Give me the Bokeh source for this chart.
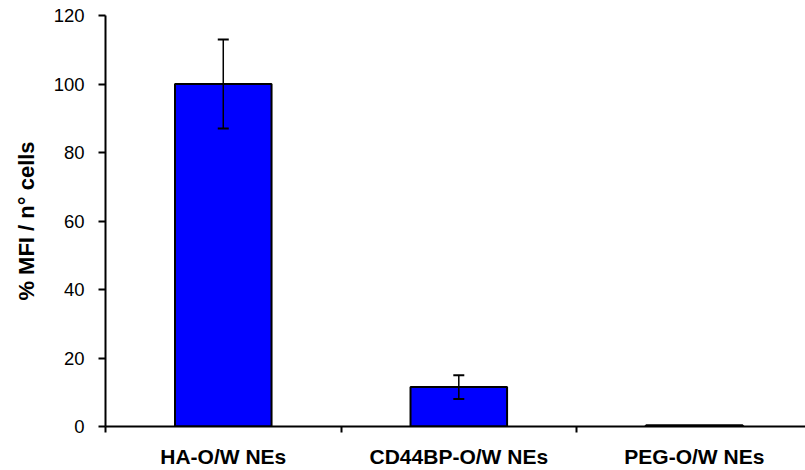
from bokeh.plotting import figure
from bokeh.models import ColumnDataSource, Range1d, FixedTicker, Whisker, TeeHead
from bokeh.embed import file_html
from bokeh.resources import INLINE

categories = ["HA-O/W NEs", "CD44BP-O/W NEs", "PEG-O/W NEs"]
values = [100.0, 11.5, 0.4]
errors = [13.0, 3.5, 0.0]
y_ticks = [0, 20, 40, 60, 80, 100, 120]

x_pos = [i + 0.5 for i in range(len(categories))]
src = ColumnDataSource(dict(x=x_pos, top=values))

ex = [x for x, e in zip(x_pos, errors) if e > 0]
eu = [v + e for v, e in zip(values, errors) if e > 0]
el = [v - e for v, e in zip(values, errors) if e > 0]
esrc = ColumnDataSource(dict(x=ex, upper=eu, lower=el))

p = figure(width=805, height=470, output_backend="svg", toolbar_location=None,
           x_range=Range1d(0, 2.972), y_range=Range1d(0, 120),
           min_border_left=105, min_border_right=0, min_border_top=15, min_border_bottom=44)
p.outline_line_color = None
p.xgrid.visible = False
p.ygrid.visible = False
p.background_fill_color = "white"

p.vbar(x="x", top="top", bottom=0, width=0.41, source=src,
       fill_color="#0000FF", line_color="black", line_width=2)

w = Whisker(base="x", upper="upper", lower="lower", source=esrc,
            line_color="black", line_width=1.5, level="overlay",
            upper_head=TeeHead(size=11, line_color="black", line_width=2),
            lower_head=TeeHead(size=11, line_color="black", line_width=2))
p.add_layout(w)

# y axis
ya = p.yaxis[0]
ya.ticker = FixedTicker(ticks=y_ticks, minor_ticks=[])
ya.axis_line_width = 2
ya.axis_line_color = "black"
ya.major_tick_line_width = 2
ya.major_tick_out = 7
ya.major_tick_in = 0
ya.minor_tick_line_color = None
ya.major_label_text_font = "Liberation Sans"
ya.major_label_text_font_size = "18.5px"
ya.major_label_text_color = "black"
ya.major_label_standoff = 14
ya.axis_label = "% MFI / n° cells"
ya.axis_label_text_font = "Liberation Sans"
ya.axis_label_text_font_style = "bold"
ya.axis_label_text_font_size = "22px"
ya.axis_label_text_color = "black"
ya.axis_label_standoff = 12

# x axis
xa = p.xaxis[0]
xa.ticker = FixedTicker(ticks=x_pos, minor_ticks=[0, 1, 2])
xa.major_label_overrides = {x: c for x, c in zip(x_pos, categories)}
xa.axis_line_width = 2
xa.axis_line_color = "black"
xa.major_tick_out = 0
xa.major_tick_in = 0
xa.major_tick_line_color = None
xa.minor_tick_out = 6
xa.minor_tick_in = 0
xa.minor_tick_line_width = 2
xa.minor_tick_line_color = "black"
xa.major_label_text_font = "Liberation Sans"
xa.major_label_text_font_style = "bold"
xa.major_label_text_font_size = "21px"
xa.major_label_text_color = "black"
xa.major_label_standoff = 12

open("out.html", "w").write(file_html(p, INLINE))
